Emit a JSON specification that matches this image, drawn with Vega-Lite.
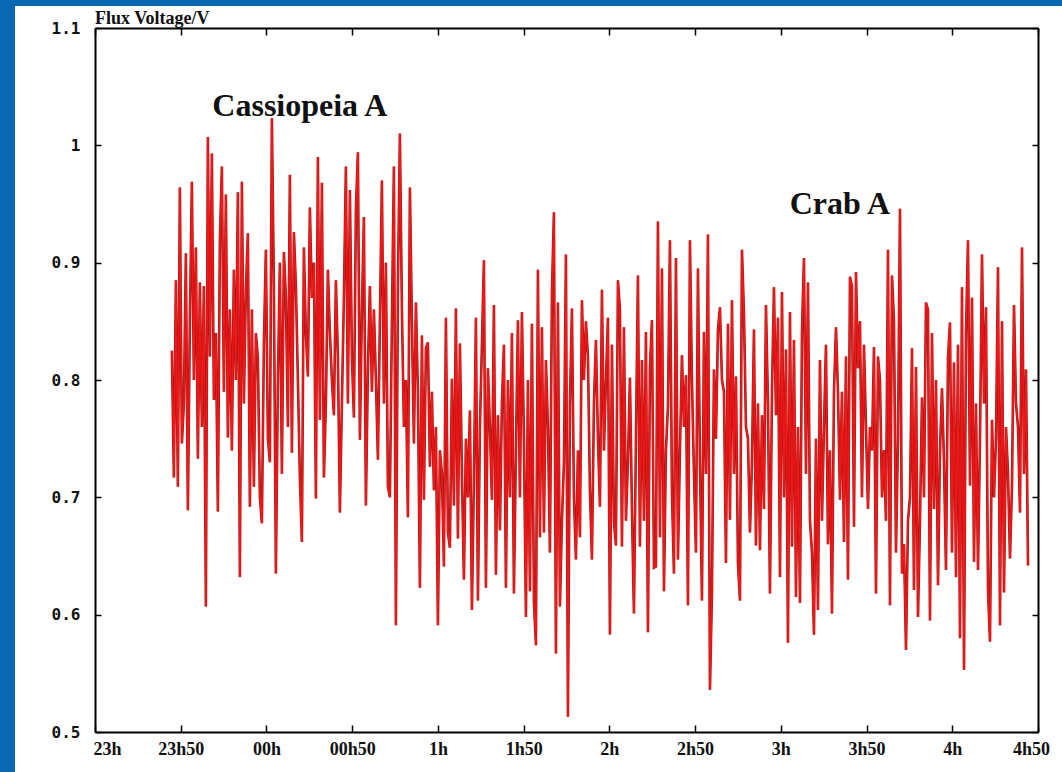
{
"$schema": "https://vega.github.io/schema/vega-lite/v6.json",
"width": 943, "height": 704,
"autosize": {"type": "none"},
"padding": {"left": 95, "top": 28, "right": 24, "bottom": 40},
"background": "#0868b4",
"view": {"stroke": null},
"title": {"text": "Flux Voltage/V", "anchor": "start", "frame": "group", "offset": 1, "dy": 23, "font": "Liberation Serif", "fontSize": 18, "fontWeight": "bold", "color": "#111111", "zindex": 2},
"datasets": {
"flux": [
{"m":26.9,"v":0.825},{"m":27.6,"v":0.717},{"m":28.3,"v":0.885},{"m":29.0,"v":0.709},{"m":29.7,"v":0.964},{"m":30.4,"v":0.746},{"m":31.1,"v":0.78},{"m":31.8,"v":0.908},{"m":32.5,"v":0.689},{"m":33.2,"v":0.85},
{"m":33.9,"v":0.969},{"m":34.6,"v":0.80},{"m":35.3,"v":0.913},{"m":36.0,"v":0.733},{"m":36.7,"v":0.883},{"m":37.4,"v":0.76},{"m":38.1,"v":0.88},{"m":38.8,"v":0.607},{"m":39.5,"v":1.007},{"m":40.2,"v":0.82},
{"m":40.9,"v":0.993},{"m":41.6,"v":0.783},{"m":42.3,"v":0.84},{"m":43.0,"v":0.688},{"m":43.7,"v":0.919},{"m":44.4,"v":0.982},{"m":45.1,"v":0.79},{"m":45.8,"v":0.958},{"m":46.5,"v":0.751},{"m":47.2,"v":0.86},
{"m":47.9,"v":0.74},{"m":48.6,"v":0.894},{"m":49.3,"v":0.80},{"m":50.0,"v":0.960},{"m":50.7,"v":0.632},{"m":51.4,"v":0.969},{"m":52.1,"v":0.78},{"m":52.8,"v":0.877},{"m":53.5,"v":0.925},{"m":54.2,"v":0.692},
{"m":54.9,"v":0.86},{"m":55.6,"v":0.709},{"m":56.3,"v":0.84},{"m":57.0,"v":0.819},{"m":57.7,"v":0.70},{"m":58.4,"v":0.678},{"m":59.1,"v":0.83},{"m":59.8,"v":0.911},{"m":60.5,"v":0.75},{"m":61.2,"v":0.73},
{"m":61.9,"v":1.023},{"m":62.6,"v":0.88},{"m":63.3,"v":0.635},{"m":64.0,"v":0.80},{"m":64.7,"v":0.90},{"m":65.4,"v":0.72},{"m":66.1,"v":0.909},{"m":66.8,"v":0.87},{"m":67.5,"v":0.76},{"m":68.2,"v":0.975},
{"m":68.9,"v":0.738},{"m":69.6,"v":0.926},{"m":70.3,"v":0.88},{"m":71.0,"v":0.80},{"m":71.7,"v":0.717},{"m":72.4,"v":0.662},{"m":73.1,"v":0.913},{"m":73.8,"v":0.84},{"m":74.5,"v":0.803},{"m":75.2,"v":0.947},
{"m":75.9,"v":0.87},{"m":76.6,"v":0.90},{"m":77.3,"v":0.699},{"m":78.0,"v":0.99},{"m":78.7,"v":0.766},{"m":79.4,"v":0.968},{"m":80.1,"v":0.717},{"m":80.8,"v":0.78},{"m":81.5,"v":0.894},{"m":82.2,"v":0.84},
{"m":82.9,"v":0.80},{"m":83.6,"v":0.77},{"m":84.3,"v":0.885},{"m":85.0,"v":0.82},{"m":85.7,"v":0.687},{"m":86.4,"v":0.78},{"m":87.1,"v":0.87},{"m":87.8,"v":0.982},{"m":88.5,"v":0.78},{"m":89.2,"v":0.962},
{"m":89.9,"v":0.82},{"m":90.6,"v":0.768},{"m":91.3,"v":0.945},{"m":92.0,"v":0.994},{"m":92.7,"v":0.749},{"m":93.4,"v":0.86},{"m":94.1,"v":0.939},{"m":94.8,"v":0.693},{"m":95.5,"v":0.81},{"m":96.2,"v":0.88},
{"m":96.9,"v":0.79},{"m":97.6,"v":0.86},{"m":98.3,"v":0.80},{"m":99.0,"v":0.732},{"m":99.7,"v":0.85},{"m":100.4,"v":0.970},{"m":101.1,"v":0.78},{"m":101.8,"v":0.90},{"m":102.5,"v":0.709},{"m":103.2,"v":0.70},
{"m":103.9,"v":0.85},{"m":104.6,"v":0.982},{"m":105.3,"v":0.591},{"m":106.0,"v":0.88},{"m":106.7,"v":1.01},{"m":107.4,"v":0.86},{"m":108.1,"v":0.76},{"m":108.8,"v":0.80},{"m":109.5,"v":0.683},{"m":110.2,"v":0.964},
{"m":110.9,"v":0.85},{"m":111.6,"v":0.746},{"m":112.3,"v":0.866},{"m":113.0,"v":0.79},{"m":113.7,"v":0.623},{"m":114.4,"v":0.838},{"m":115.1,"v":0.698},{"m":115.8,"v":0.827},{"m":116.5,"v":0.832},{"m":117.2,"v":0.726},
{"m":117.9,"v":0.79},{"m":118.6,"v":0.706},{"m":119.3,"v":0.76},{"m":120.0,"v":0.591},{"m":120.7,"v":0.74},{"m":121.4,"v":0.72},{"m":122.1,"v":0.641},{"m":122.8,"v":0.853},{"m":123.5,"v":0.670},{"m":124.2,"v":0.657},
{"m":124.9,"v":0.801},{"m":125.6,"v":0.693},{"m":126.3,"v":0.861},{"m":127.0,"v":0.665},{"m":127.7,"v":0.831},{"m":128.4,"v":0.72},{"m":129.1,"v":0.630},{"m":129.8,"v":0.75},{"m":130.5,"v":0.70},{"m":131.2,"v":0.774},
{"m":131.9,"v":0.604},{"m":132.6,"v":0.715},{"m":133.3,"v":0.853},{"m":134.0,"v":0.612},{"m":134.7,"v":0.76},{"m":135.4,"v":0.830},{"m":136.1,"v":0.902},{"m":136.8,"v":0.623},{"m":137.5,"v":0.81},{"m":138.2,"v":0.76},
{"m":138.9,"v":0.698},{"m":139.6,"v":0.864},{"m":140.3,"v":0.634},{"m":141.0,"v":0.77},{"m":141.7,"v":0.672},{"m":142.4,"v":0.78},{"m":143.1,"v":0.830},{"m":143.8,"v":0.623},{"m":144.5,"v":0.80},{"m":145.2,"v":0.70},
{"m":145.9,"v":0.84},{"m":146.6,"v":0.618},{"m":147.3,"v":0.74},{"m":148.0,"v":0.851},{"m":148.7,"v":0.70},{"m":149.4,"v":0.858},{"m":150.1,"v":0.75},{"m":150.8,"v":0.598},{"m":151.5,"v":0.80},{"m":152.2,"v":0.62},
{"m":152.9,"v":0.848},{"m":153.6,"v":0.611},{"m":154.3,"v":0.574},{"m":155.0,"v":0.894},{"m":155.7,"v":0.666},{"m":156.4,"v":0.845},{"m":157.1,"v":0.67},{"m":157.8,"v":0.817},{"m":158.5,"v":0.76},{"m":159.2,"v":0.653},
{"m":159.9,"v":0.874},{"m":160.6,"v":0.943},{"m":161.3,"v":0.567},{"m":162.0,"v":0.866},{"m":162.7,"v":0.607},{"m":163.4,"v":0.68},{"m":164.1,"v":0.729},{"m":164.8,"v":0.907},{"m":165.5,"v":0.513},{"m":166.2,"v":0.78},
{"m":166.9,"v":0.861},{"m":167.6,"v":0.70},{"m":168.3,"v":0.647},{"m":169.0,"v":0.74},{"m":169.7,"v":0.666},{"m":170.4,"v":0.868},{"m":171.1,"v":0.80},{"m":171.8,"v":0.85},{"m":172.5,"v":0.82},{"m":173.2,"v":0.706},
{"m":173.9,"v":0.647},{"m":174.6,"v":0.78},{"m":175.3,"v":0.834},{"m":176.0,"v":0.75},{"m":176.7,"v":0.692},{"m":177.4,"v":0.877},{"m":178.1,"v":0.74},{"m":178.8,"v":0.80},{"m":179.5,"v":0.853},{"m":180.2,"v":0.583},
{"m":180.9,"v":0.83},{"m":181.6,"v":0.679},{"m":182.3,"v":0.659},{"m":183.0,"v":0.885},{"m":183.7,"v":0.86},{"m":184.4,"v":0.658},{"m":185.1,"v":0.845},{"m":185.8,"v":0.68},{"m":186.5,"v":0.73},{"m":187.2,"v":0.802},
{"m":187.9,"v":0.69},{"m":188.6,"v":0.601},{"m":189.3,"v":0.75},{"m":190.0,"v":0.889},{"m":190.7,"v":0.658},{"m":191.4,"v":0.817},{"m":192.1,"v":0.68},{"m":192.8,"v":0.841},{"m":193.5,"v":0.585},{"m":194.2,"v":0.81},
{"m":194.9,"v":0.851},{"m":195.6,"v":0.64},{"m":196.3,"v":0.641},{"m":197.0,"v":0.935},{"m":197.7,"v":0.666},{"m":198.4,"v":0.895},{"m":199.1,"v":0.62},{"m":199.8,"v":0.74},{"m":200.5,"v":0.777},{"m":201.2,"v":0.919},
{"m":201.9,"v":0.704},{"m":202.6,"v":0.635},{"m":203.3,"v":0.904},{"m":204.0,"v":0.647},{"m":204.7,"v":0.74},{"m":205.4,"v":0.821},{"m":206.1,"v":0.76},{"m":206.8,"v":0.804},{"m":207.5,"v":0.608},{"m":208.2,"v":0.919},
{"m":208.9,"v":0.80},{"m":209.6,"v":0.721},{"m":210.3,"v":0.653},{"m":211.0,"v":0.895},{"m":211.7,"v":0.73},{"m":212.4,"v":0.612},{"m":213.1,"v":0.841},{"m":213.8,"v":0.72},{"m":214.5,"v":0.924},{"m":215.2,"v":0.536},
{"m":215.9,"v":0.618},{"m":216.6,"v":0.809},{"m":217.3,"v":0.75},{"m":218.0,"v":0.843},{"m":218.7,"v":0.862},{"m":219.4,"v":0.80},{"m":220.1,"v":0.79},{"m":220.8,"v":0.644},{"m":221.5,"v":0.848},{"m":222.2,"v":0.681},
{"m":222.9,"v":0.868},{"m":223.6,"v":0.72},{"m":224.3,"v":0.803},{"m":225.0,"v":0.644},{"m":225.7,"v":0.612},{"m":226.4,"v":0.911},{"m":227.1,"v":0.857},{"m":227.8,"v":0.76},{"m":228.5,"v":0.75},{"m":229.2,"v":0.670},
{"m":229.9,"v":0.73},{"m":230.6,"v":0.843},{"m":231.3,"v":0.659},{"m":232.0,"v":0.78},{"m":232.7,"v":0.655},{"m":233.4,"v":0.77},{"m":234.1,"v":0.69},{"m":234.8,"v":0.864},{"m":235.5,"v":0.78},{"m":236.2,"v":0.618},
{"m":236.9,"v":0.79},{"m":237.6,"v":0.879},{"m":238.3,"v":0.77},{"m":239.0,"v":0.853},{"m":239.7,"v":0.632},{"m":240.4,"v":0.875},{"m":241.1,"v":0.70},{"m":241.8,"v":0.826},{"m":242.5,"v":0.576},{"m":243.2,"v":0.858},
{"m":243.9,"v":0.658},{"m":244.6,"v":0.834},{"m":245.3,"v":0.615},{"m":246.0,"v":0.76},{"m":246.7,"v":0.610},{"m":247.4,"v":0.841},{"m":248.1,"v":0.904},{"m":248.8,"v":0.72},{"m":249.5,"v":0.883},{"m":250.2,"v":0.68},
{"m":250.9,"v":0.653},{"m":251.6,"v":0.583},{"m":252.3,"v":0.75},{"m":253.0,"v":0.604},{"m":253.7,"v":0.817},{"m":254.4,"v":0.68},{"m":255.1,"v":0.76},{"m":255.8,"v":0.830},{"m":256.5,"v":0.66},{"m":257.2,"v":0.74},
{"m":257.9,"v":0.601},{"m":258.6,"v":0.79},{"m":259.3,"v":0.845},{"m":260.0,"v":0.79},{"m":260.7,"v":0.698},{"m":261.4,"v":0.79},{"m":262.1,"v":0.662},{"m":262.8,"v":0.82},{"m":263.5,"v":0.630},{"m":264.2,"v":0.888},
{"m":264.9,"v":0.88},{"m":265.6,"v":0.675},{"m":266.3,"v":0.892},{"m":267.0,"v":0.81},{"m":267.7,"v":0.85},{"m":268.4,"v":0.70},{"m":269.1,"v":0.83},{"m":269.8,"v":0.76},{"m":270.5,"v":0.69},{"m":271.2,"v":0.76},
{"m":271.9,"v":0.74},{"m":272.6,"v":0.828},{"m":273.3,"v":0.618},{"m":274.0,"v":0.82},{"m":274.7,"v":0.80},{"m":275.4,"v":0.70},{"m":276.1,"v":0.74},{"m":276.8,"v":0.68},{"m":277.5,"v":0.911},{"m":278.2,"v":0.608},
{"m":278.9,"v":0.889},{"m":279.6,"v":0.85},{"m":280.3,"v":0.653},{"m":281.0,"v":0.75},{"m":281.7,"v":0.946},{"m":282.4,"v":0.635},{"m":283.1,"v":0.66},{"m":283.8,"v":0.570},{"m":284.5,"v":0.68},{"m":285.2,"v":0.70},
{"m":285.9,"v":0.827},{"m":286.6,"v":0.621},{"m":287.3,"v":0.811},{"m":288.0,"v":0.598},{"m":288.7,"v":0.68},{"m":289.4,"v":0.785},{"m":290.1,"v":0.70},{"m":290.8,"v":0.866},{"m":291.5,"v":0.86},{"m":292.2,"v":0.595},
{"m":292.9,"v":0.84},{"m":293.6,"v":0.69},{"m":294.3,"v":0.80},{"m":295.0,"v":0.625},{"m":295.7,"v":0.74},{"m":296.4,"v":0.793},{"m":297.1,"v":0.73},{"m":297.8,"v":0.638},{"m":298.5,"v":0.819},{"m":299.2,"v":0.849},
{"m":299.9,"v":0.653},{"m":300.6,"v":0.815},{"m":301.3,"v":0.632},{"m":302.0,"v":0.830},{"m":302.7,"v":0.580},{"m":303.4,"v":0.879},{"m":304.1,"v":0.553},{"m":304.8,"v":0.84},{"m":305.5,"v":0.919},{"m":306.2,"v":0.71},
{"m":306.9,"v":0.870},{"m":307.6,"v":0.645},{"m":308.3,"v":0.78},{"m":309.0,"v":0.638},{"m":309.7,"v":0.75},{"m":310.4,"v":0.907},{"m":311.1,"v":0.78},{"m":311.8,"v":0.862},{"m":312.5,"v":0.621},{"m":313.2,"v":0.577},
{"m":313.9,"v":0.766},{"m":314.6,"v":0.70},{"m":315.3,"v":0.75},{"m":316.0,"v":0.896},{"m":316.7,"v":0.591},{"m":317.4,"v":0.85},{"m":318.1,"v":0.619},{"m":318.8,"v":0.76},{"m":319.5,"v":0.72},{"m":320.2,"v":0.648},
{"m":320.9,"v":0.71},{"m":321.6,"v":0.864},{"m":322.3,"v":0.78},{"m":323.0,"v":0.76},{"m":323.7,"v":0.687},{"m":324.4,"v":0.913},{"m":325.1,"v":0.72},{"m":325.8,"v":0.809},{"m":326.5,"v":0.642}
],
"notes": [
{"m":71.7,"v":1.0335,"label":"Cassiopeia A"},
{"m":260.7,"v":0.95,"label":"Crab A"}
]
},
"resolve": {"axis": {"x": "independent", "y": "independent"}},
"layer": [
{
"data": {"values": [{}]},
"mark": {"type": "rect", "color": "white", "clip": false},
"encoding": {
"x": {"datum": -28.0, "type": "quantitative", "scale": {"domain": [0, 330]}, "axis": null},
"x2": {"datum": 338.4},
"y": {"datum": 1.1188, "type": "quantitative", "scale": {"domain": [0.5, 1.1]}, "axis": null},
"y2": {"datum": 0.4659}
}
},
{
"data": {"name": "flux"},
"mark": {"type": "line", "color": "#9a1d1d", "strokeWidth": 2.6, "interpolate": "linear"},
"encoding": {
"x": {"field": "m", "type": "quantitative", "scale": {"domain": [0, 330]}, "axis": null},
"y": {"field": "v", "type": "quantitative", "scale": {"domain": [0.5, 1.1]}, "axis": null}
}
},
{
"data": {"name": "flux"},
"mark": {"type": "line", "color": "#ff1414", "strokeWidth": 1.4, "interpolate": "linear"},
"encoding": {
"x": {"field": "m", "type": "quantitative", "scale": {"domain": [0, 330]},
"axis": {"orient": "bottom", "title": null, "zindex": 2, "values": [0,30,60,90,120,150,180,210,240,270,300,330],
"labelExpr": "['23h','23h50','00h','00h50','1h','1h50','2h','2h50','3h','3h50','4h','4h50'][round(datum.value/30)]",
"labelFont": "Liberation Serif", "labelFontSize": 18, "labelFontWeight": "bold", "labelColor": "#111111",
"labelPadding": 15, "labelOverlap": false, "labelBound": false, "labelFlush": false,
"labelOffset": {"condition": [{"test": "datum.value == 0", "value": 12}, {"test": "datum.value == 330", "value": -7}], "value": 0},
"tickSize": -7, "tickWidth": 1.5, "tickColor": "black", "domainColor": "black", "domainWidth": 2, "grid": false}},
"y": {"field": "v", "type": "quantitative", "scale": {"domain": [0.5, 1.1]},
"axis": {"orient": "left", "title": null, "zindex": 2, "values": [0.5,0.6,0.7,0.8,0.9,1.0,1.1],
"labelExpr": "datum.value == 1 ? '1' : format(datum.value, '.1f')",
"labelFont": "DejaVu Sans Mono", "labelFontSize": 16, "labelFontWeight": "bold", "labelColor": "#111111",
"labelPadding": 21, "labelOverlap": false, "labelBound": false, "labelFlush": false,
"tickSize": -6, "tickWidth": 1.5, "tickColor": "black", "domainColor": "black", "domainWidth": 2, "grid": false}}
}
},
{
"data": {"name": "notes"},
"mark": {"type": "text", "font": "Liberation Serif", "fontSize": 32, "fontWeight": "bold", "color": "#111111", "align": "center", "baseline": "middle"},
"encoding": {
"x": {"field": "m", "type": "quantitative", "scale": {"domain": [0, 330]},
"axis": {"orient": "top", "title": null, "zindex": 2, "values": [0,30,60,90,120,150,180,210,240,270,300,330], "labels": false,
"tickSize": -7, "tickWidth": 1.5, "tickColor": "black", "domainColor": "black", "domainWidth": 2, "grid": false}},
"y": {"field": "v", "type": "quantitative", "scale": {"domain": [0.5, 1.1]},
"axis": {"orient": "right", "title": null, "zindex": 2, "values": [0.5,0.6,0.7,0.8,0.9,1.0,1.1], "labels": false,
"tickSize": -6, "tickWidth": 1.5, "tickColor": "black", "domainColor": "black", "domainWidth": 2, "grid": false}},
"text": {"field": "label"}
}
}
]
}
